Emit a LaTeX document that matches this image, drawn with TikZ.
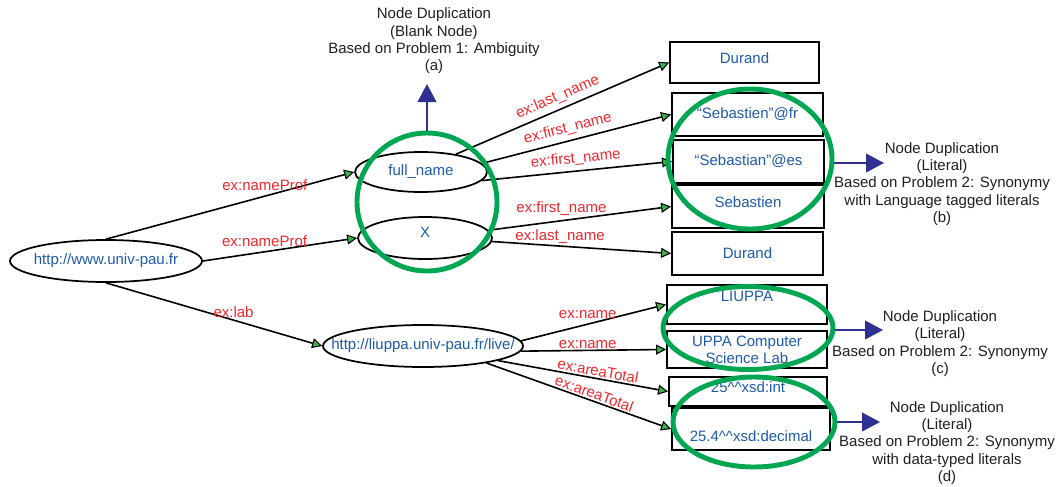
\documentclass[tikz,border=0pt]{standalone}
\usepackage{fontspec}
\setmainfont{Liberation Sans}
\usepackage{tikz}
\usetikzlibrary{shapes}
\usetikzlibrary{arrows.meta}
\definecolor{nodeblue}{RGB}{30,90,170}
\definecolor{labred}{RGB}{240,40,45}
\definecolor{hlgreen}{RGB}{0,166,81}
\definecolor{tipgreen}{RGB}{57,181,74}
\definecolor{arrnavy}{RGB}{46,49,146}

\begin{document}
\begin{tikzpicture}[x=0.75pt,y=-0.75pt,
  every node/.style={font=\fontsize{11.25}{13}\selectfont},
  res/.style={draw, ellipse, line width=1.3pt, inner xsep=-30pt, inner ysep=0pt, text=nodeblue},
  lit/.style={draw, rectangle, line width=1.4pt, inner sep=0pt, text=nodeblue, align=center},
  prop/.style={line width=1.2pt, -{Triangle[length=7.5pt,width=7.5pt,fill=tipgreen,line width=0.8pt]}},
  lab/.style={text=labred},
  hl/.style={draw=hlgreen, line width=3.7pt, ellipse, inner sep=0pt},
  dup/.style={arrnavy, line width=1.5pt, -{Triangle[length=13.5pt,width=14pt]}},
  note/.style={align=center, text=black!88}]
\useasboundingbox (0,0) rectangle (1060,486);

% resources
\node[res, minimum width=144pt, minimum height=31.5pt] (uni) at (106,261) {http://www.univ-pau.fr};
\node[res, minimum width=99pt, minimum height=30pt] (fn) at (421,172) {full\_name};
\node[res, minimum width=100.5pt, minimum height=31.5pt, text depth=9pt] (xn) at (425,238) {X};
\node[res, minimum width=150pt, minimum height=31.5pt] (live) at (423,346) {http://liuppa.univ-pau.fr/live/};

% literals
\node[lit, minimum width=111.75pt, minimum height=30.75pt, text depth=6.8pt] (dur1) at (744.5,62.5) {Durand};
\node[lit, minimum width=113.25pt, minimum height=32.25pt] (sebfr) at (747.5,114.5) {“Sebastien”@fr};
\node[lit, minimum width=113.25pt, minimum height=32.25pt] (sebes) at (748.5,161.5) {“Sebastian”@es};
\node[lit, minimum width=114pt, minimum height=32.25pt, text depth=6.8pt] (seb) at (748,206.5) {Sebastien};
\node[lit, minimum width=113.25pt, minimum height=32.25pt] (dur2) at (747.5,253.5) {Durand};
\node[lit, minimum width=120pt, minimum height=29.25pt, text depth=12.8pt] (liuppa) at (747,304.5) {LIUPPA};
\node[lit, minimum width=120pt, minimum height=27.75pt] (uppa) at (747,349.5) {UPPA Computer\\Science Lab};
\node[lit, minimum width=118.5pt, minimum height=21.75pt, text depth=6.8pt] (int) at (748,391.5) {25\textasciicircum\textasciicircum xsd:int};
\node[lit, minimum width=118.5pt, minimum height=31.5pt, text height=18.7pt] (dec) at (751,429) {25.4\textasciicircum\textasciicircum xsd:decimal};

% properties
\draw[prop] (uni.north) -- (fn.west) node[lab, pos=0.64, above] {ex:nameProf};
\draw[prop] (uni.east) -- (xn.west) node[lab, pos=0.4, above] {ex:nameProf};
\draw[prop] (uni.south) -- (live.west) node[lab, pos=0.59, above, inner sep=1pt] {ex:lab};
\draw[prop] (fn.27) -- (dur1.west) node[lab, midway, above, sloped] {ex:last\_name};
\draw[prop] (fn.8) -- (sebfr.west) node[lab, pos=0.47, above, sloped] {ex:first\_name};
\draw[prop] (fn.-8) -- (sebes.west) node[lab, midway, above, sloped] {ex:first\_name};
\draw[prop] (xn.7) -- (seb.west) node[lab, pos=0.4, above] {ex:first\_name};
\draw[prop] (xn.-3) -- (dur2.west) node[lab, pos=0.38, above, inner sep=1pt] {ex:last\_name};
\draw[prop] (live.3) -- (liuppa.west) node[lab, pos=0.46, above] {ex:name};
\draw[prop] (live.-3) -- (uppa.west) node[lab, pos=0.46, above, inner sep=1pt] {ex:name};
\draw[prop] (live.-11) -- (int.west) node[lab, pos=0.58, above, sloped, inner sep=1pt] {ex:areaTotal};
\draw[prop] (live.-15) -- (dec.west) node[lab, pos=0.57, above, sloped, inner sep=1pt] {ex:areaTotal};

% duplications
\node[hl, minimum width=105pt, minimum height=103.5pt] (ga) at (427,202) {};
\node[hl, minimum width=123pt, minimum height=105pt] (gb) at (750,159) {};
\node[hl, minimum width=127.5pt, minimum height=62.25pt] (gc) at (748,328) {};
\node[hl, minimum width=121.5pt, minimum height=67.5pt] (gd) at (754,422) {};

\node[note] (na) at (434,41) {Node Duplication\\(Blank Node)\\Based on Problem 1: Ambiguity\\(a)};
\node[note] (nb) at (942,184) {Node Duplication\\(Literal)\\Based on Problem 2: Synonymy\\with Language tagged literals\\(b)};
\node[note] (nc) at (940,343.5) {Node Duplication\\(Literal)\\Based on Problem 2: Synonymy\\(c)};
\node[note] (nd) at (947,443) {Node Duplication\\(Literal)\\Based on Problem 2: Synonymy\\with data-typed literals\\(d)};

\coordinate (ta) at (427,84);
\coordinate (tb) at (884,163);
\coordinate (tc) at (883,330);
\coordinate (td) at (880,422);
\draw[dup] (ga.north) -- (ta);
\draw[dup] (gb.east |- tb) -- (tb);
\draw[dup] (gc.east |- tc) -- (tc);
\draw[dup] (gd.east) -- (td);
\end{tikzpicture}
\end{document}
